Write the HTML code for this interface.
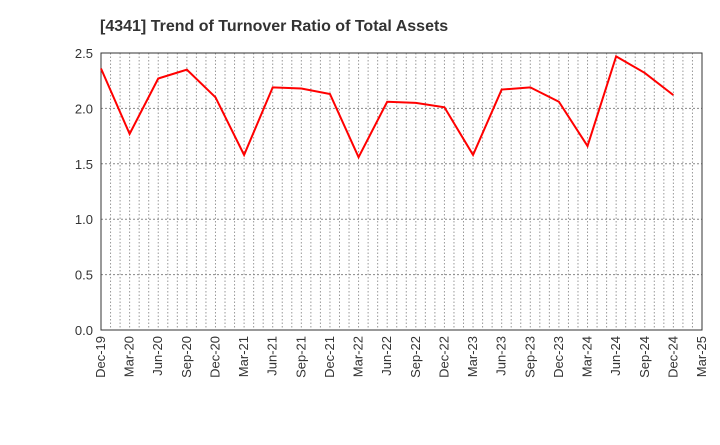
<!DOCTYPE html>
<html><head><meta charset="utf-8"><style>
body{margin:0;background:#fff;}
svg text{font-family:"Liberation Sans",sans-serif;}
</style></head><body>
<svg id="chart" width="720" height="440">
<text x="100" y="31" font-size="16" font-weight="bold" fill="#333">[4341]  Trend of Turnover Ratio of Total Assets</text>
<g id="grid"></g><g id="axes"></g><g id="series"></g>
</svg>
<script>
const tickLabels=["Dec-19","Mar-20","Jun-20","Sep-20","Dec-20","Mar-21","Jun-21","Sep-21","Dec-21","Mar-22","Jun-22","Sep-22","Dec-22","Mar-23","Jun-23","Sep-23","Dec-23","Mar-24","Jun-24","Sep-24","Dec-24","Mar-25"];
const yTicks=[0.0,0.5,1.0,1.5,2.0,2.5];
const values=[2.36,1.77,2.27,2.35,2.10,1.58,2.19,2.18,2.13,1.56,2.06,2.05,2.01,1.58,2.17,2.19,2.06,1.66,2.47,2.32,2.12];
const L=101,R=702,T=53,B=330,NM=63;
const xM=m=>L+(R-L)*m/NM;
const y=v=>B-(B-T)*v/2.5;
const NS="http://www.w3.org/2000/svg";
function mk(tag,attrs,parent){const e=document.createElementNS(NS,tag);for(const k in attrs)e.setAttribute(k,attrs[k]);document.getElementById(parent).appendChild(e);return e;}
for(let m=1;m<NM;m++){
 const e=mk('line',{x1:xM(m),x2:xM(m),y1:T,y2:B,stroke:'#999','stroke-dasharray':'1.5,2','stroke-width':1},'grid');
 
 
}
yTicks.forEach(v=>{
 if(v>0&&v<2.5){const g=mk('line',{x1:L,x2:R,y1:y(v),y2:y(v),stroke:'#888','stroke-dasharray':'2,2','stroke-width':1},'grid');
 
 }
 const t=mk('text',{x:L-8,y:y(v)+5,'text-anchor':'end','font-size':13,fill:'#333'},'axes');
 t.textContent=v.toFixed(1);
 
 
});
tickLabels.forEach((s,i)=>{
 const x=xM(i*3);
 const t=mk('text',{x:x+4,y:B+6,'text-anchor':'end','font-size':13,fill:'#333',transform:`rotate(-90 ${x+4} ${B+6})`},'axes');
 t.textContent=s;
 
 
});
const fr=mk('rect',{x:L,y:T,width:R-L,height:B-T,fill:'none',stroke:'#333','stroke-width':1},'axes');


const pl=mk('polyline',{points:values.map((v,i)=>xM(i*3)+','+y(v)).join(' '),fill:'none',stroke:'#f00','stroke-width':2},'series');


</script>
</body></html>
